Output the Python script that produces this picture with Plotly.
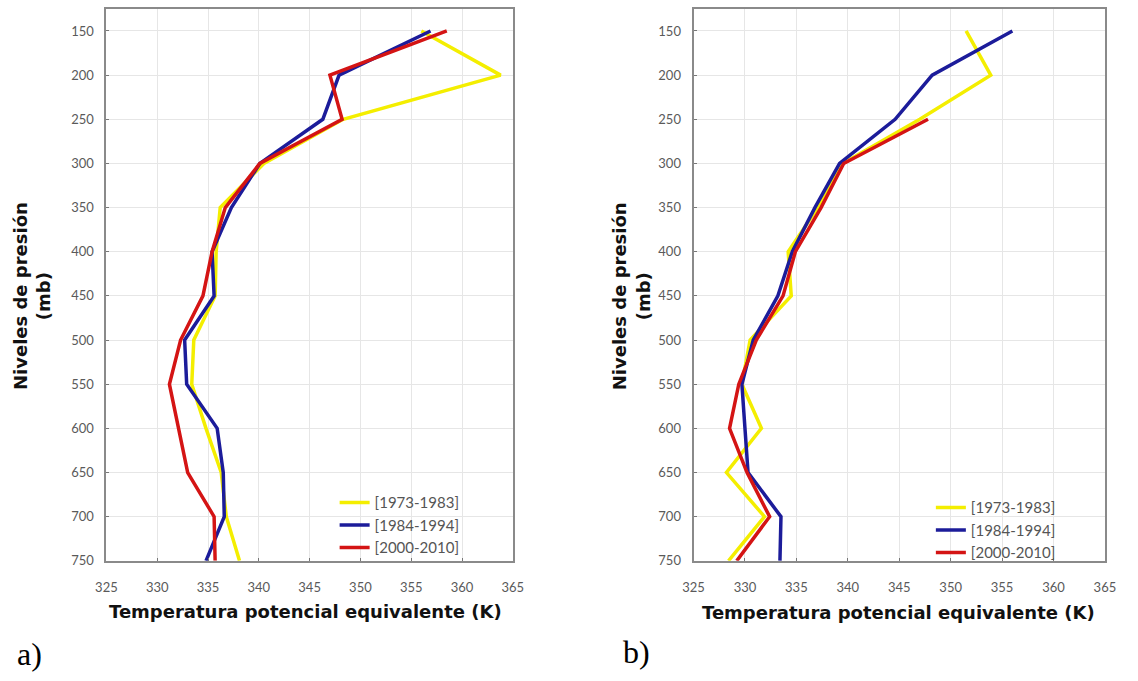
import plotly.graph_objects as go

# Pressure levels (mb) and equivalent potential temperature (K) per period
niveles = [150, 200, 250, 300, 350, 400, 450, 500, 550, 600, 650, 700, 750]
periodos = ["[1973-1983]", "[1984-1994]", "[2000-2010]"]
colores = ["#f4ee00", "#1c1c9a", "#d41414"]

# Panel a)
a_1973_1983 = [356.0, 363.8, 348.3, 340.5, 336.2, 335.8, 335.7, 333.6, 333.4, 334.8, 336.3, 336.8, 338.1]
a_1984_1994 = [356.9, 347.9, 346.3, 340.1, 337.3, 335.4, 335.6, 332.7, 332.9, 335.9, 336.5, 336.6, 334.8]
a_2000_2010 = [358.5, 347.0, 348.2, 340.1, 336.7, 335.4, 334.5, 332.3, 331.2, 332.1, 333.0, 335.6, 335.7]

# Panel b)
b_1973_1983 = [351.5, 353.9, 347.0, 339.5, 337.1, 334.2, 334.5, 330.5, 329.7, 331.6, 328.2, 331.9, 328.4]
b_1984_1994 = [356.0, 348.2, 344.6, 339.2, 336.8, 334.6, 333.2, 330.8, 329.7, 330.0, 330.3, 333.5, 333.4]
b_2000_2010 = [None, None, 347.8, 339.6, 337.4, 334.9, 333.7, 331.1, 329.4, 328.5, 330.2, 332.4, 329.2]

x_ticks = [325, 330, 335, 340, 345, 350, 355, 360, 365]
y_ticks = niveles

fig = go.Figure()

panel_a = [a_1973_1983, a_1984_1994, a_2000_2010]
panel_b = [b_1973_1983, b_1984_1994, b_2000_2010]

for serie, nombre, color in zip(panel_a, periodos, colores):
    fig.add_trace(go.Scatter(x=serie, y=niveles, mode="lines", name=nombre,
                             line=dict(color=color, width=3.5),
                             xaxis="x", yaxis="y", legend="legend"))
for serie, nombre, color in zip(panel_b, periodos, colores):
    fig.add_trace(go.Scatter(x=serie, y=niveles, mode="lines", name=nombre,
                             line=dict(color=color, width=3.5),
                             xaxis="x2", yaxis="y2", legend="legend2",
                             connectgaps=False))

W, H = 1138, 681
tick_font = dict(family="Lato, Open Sans, sans-serif", size=13, color="#5a5a5a")

def eje_x(dominio, ancla):
    return dict(domain=dominio, anchor=ancla, range=[325, 365], tickvals=x_ticks,
                showgrid=True, gridcolor="#e6e6e6", gridwidth=1, zeroline=False,
                showline=True, mirror=True, linecolor="#8a8a8a", linewidth=2,
                ticks="inside", ticklen=3, tickcolor="#777", tickfont=tick_font,
                ticklabelstandoff=14)

def eje_y(ancla):
    return dict(domain=[1 - 567.5 / H, 1 - 9 / H], anchor=ancla, range=[750, 125],
                tickvals=y_ticks, showgrid=True, gridcolor="#e6e6e6", gridwidth=1,
                zeroline=False, showline=True, mirror=True, linecolor="#8a8a8a",
                linewidth=2, ticks="inside", ticklen=3, tickcolor="#777",
                tickfont=tick_font, ticklabelstandoff=8)

leg_common = dict(bgcolor="rgba(0,0,0,0)", borderwidth=0, xanchor="left", yanchor="top",
                  font=dict(family="Lato, Open Sans, sans-serif", size=15, color="#555"),
                  tracegroupgap=0, itemwidth=30)

titulo_font = dict(family="DejaVu Sans, sans-serif", size=18, color="#111")
y_titulo = "<b>Niveles de presión<br>(mb)</b>"
x_titulo = "<b>Temperatura potencial equivalente (K)</b>"
letra_font = dict(family="Liberation Serif, serif", size=32, color="#000")

fig.update_layout(
    width=W, height=H,
    margin=dict(l=0, r=0, t=0, b=0),
    paper_bgcolor="white", plot_bgcolor="white",
    xaxis=eje_x([97.3 / W, 511.7 / W], "y"),
    yaxis=eje_y("x"),
    xaxis2=eje_x([696 / W, 1115.5 / W], "y2"),
    yaxis2=eje_y("x2"),
    legend=dict(x=330 / W, y=1 - 492 / H, **leg_common),
    legend2=dict(x=938 / W, y=1 - 497 / H, **leg_common),
    annotations=[
        dict(text=x_titulo, x=300 / W, y=1 - 619 / H, xref="paper", yref="paper",
             showarrow=False, font=titulo_font, xanchor="center", yanchor="middle"),
        dict(text=x_titulo, x=905 / W, y=1 - 620 / H, xref="paper", yref="paper",
             showarrow=False, font=titulo_font, xanchor="center", yanchor="middle"),
        dict(text=y_titulo, x=22 / W, y=1 - 300 / H, xref="paper", yref="paper",
             showarrow=False, font=titulo_font, textangle=-90,
             xanchor="center", yanchor="middle"),
        dict(text=y_titulo, x=633 / W, y=1 - 300 / H, xref="paper", yref="paper",
             showarrow=False, font=titulo_font, textangle=-90,
             xanchor="center", yanchor="middle"),
        dict(text="a)", x=4 / W, y=1 - 662 / H, xref="paper", yref="paper",
             showarrow=False, xanchor="left", yanchor="middle", font=letra_font),
        dict(text="b)", x=622 / W, y=1 - 660 / H, xref="paper", yref="paper",
             showarrow=False, xanchor="left", yanchor="middle", font=letra_font),
    ],
)

fig.write_html("out.html")
